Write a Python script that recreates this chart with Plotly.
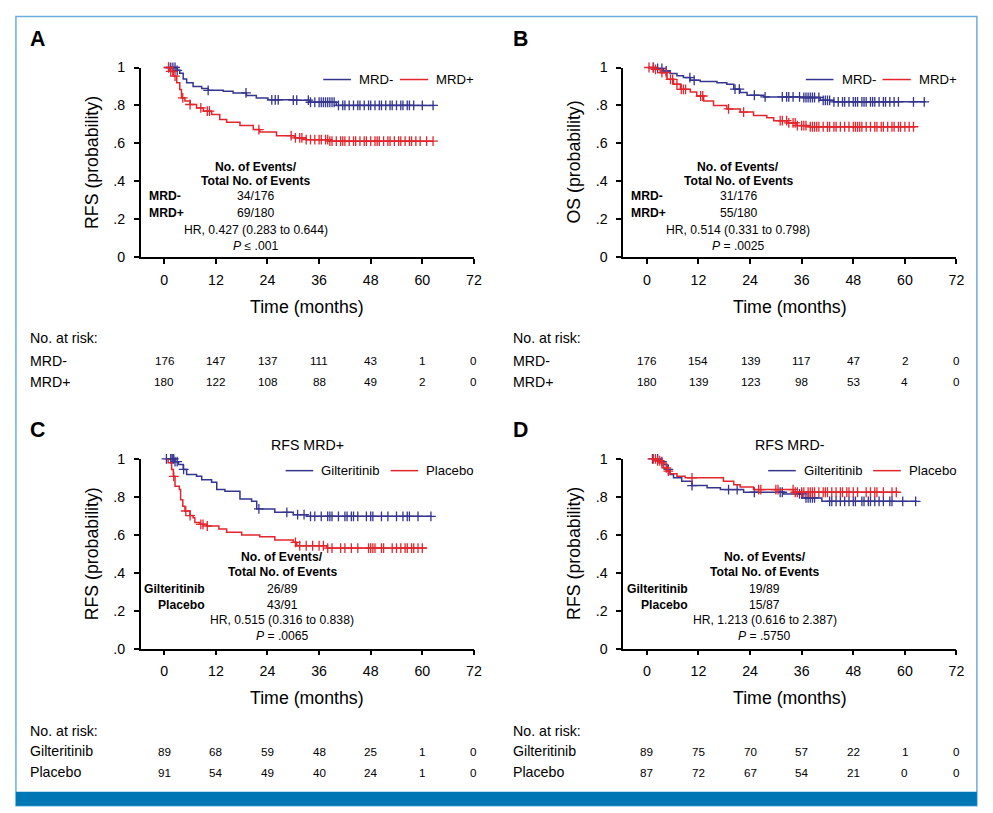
import numpy as np
import plotly.graph_objects as go

# ---- data ----
months = [0, 12, 24, 36, 48, 60, 72]

# A: RFS by MRD status
a_neg_t = [0.5, 3.0, 3.6, 4.4, 5.2, 6.7, 8.7, 10.2, 13.7, 16.0, 19.1, 21.4, 24.1, 30.0, 33.8, 40.0, 62.8]
a_neg_s = [1.0, 0.985, 0.97, 0.94, 0.92, 0.90, 0.89, 0.88, 0.875, 0.866, 0.852, 0.84, 0.83, 0.828, 0.817, 0.80, 0.80]
a_neg_cens = [1.0, 1.5, 2.0, 2.5, 3.0, 10.2, 19.0, 25.0, 25.8, 26.5, 30.0, 30.8, 33.5, 34.0, 35.0, 36.0, 36.5,
              37.0, 37.5, 38.0, 38.5, 39.0, 39.5, 40.5, 41.5, 42.0, 43.0, 44.0, 45.0, 45.5, 46.5, 47.5, 48.0,
              49.0, 50.0, 50.5, 51.5, 52.5, 53.0, 54.0, 55.0, 55.5, 56.5, 57.0, 58.0, 60.0, 62.5]
a_pos_t = [0.3, 1.3, 2.1, 2.9, 3.6, 4.0, 4.8, 6.0, 7.5, 9.1, 11.0, 12.9, 14.5, 17.6, 20.7, 22.2, 26.1, 30.3, 33.0, 38.5, 62.5]
a_pos_s = [1.0, 0.98, 0.955, 0.92, 0.884, 0.84, 0.823, 0.805, 0.787, 0.77, 0.752, 0.726, 0.712, 0.694, 0.673, 0.66,
           0.641, 0.629, 0.62, 0.612, 0.612]
a_pos_cens = [1.0, 1.5, 2.0, 2.5, 4.3, 6.0, 8.5, 10.0, 10.5, 22.0, 29.5, 30.5, 31.5, 32.0, 33.0, 34.0, 35.0, 36.0,
              36.5, 37.5, 38.0, 38.5, 39.0, 40.0, 41.0, 41.5, 42.0, 43.0, 44.0, 44.5, 45.5, 46.5, 47.0, 48.0,
              49.0, 49.5, 50.0, 51.0, 52.0, 52.5, 53.5, 54.5, 55.0, 56.0, 57.0, 57.5, 58.5, 59.5, 61.0, 62.5]

# B: OS by MRD status
b_neg_t = [0.4, 2.3, 3.9, 5.4, 7.0, 8.5, 10.1, 12.4, 16.3, 18.6, 20.2, 21.7, 23.3, 27.2, 35.7, 40.3, 43.4, 64.8]
b_neg_s = [1.0, 0.995, 0.982, 0.968, 0.956, 0.947, 0.933, 0.926, 0.92, 0.912, 0.886, 0.868, 0.854, 0.845, 0.842,
           0.827, 0.819, 0.819]
b_neg_cens = [1.5, 2.5, 3.5, 4.5, 10.0, 11.0, 20.5, 21.5, 25.0, 27.5, 31.5, 32.5, 33.0, 34.0, 35.5, 36.5, 37.0,
              37.5, 38.0, 38.5, 39.0, 40.0, 41.0, 41.5, 42.0, 42.5, 43.5, 44.5, 45.5, 46.0, 47.0, 48.0, 48.5,
              49.0, 50.0, 50.5, 51.0, 52.0, 52.5, 53.0, 54.0, 55.0, 55.5, 56.5, 57.5, 58.5, 62.0, 64.5]
b_pos_t = [0.2, 1.6, 3.1, 4.7, 6.2, 7.8, 10.1, 11.6, 13.2, 15.5, 18.6, 21.7, 24.8, 27.9, 29.5, 32.6, 34.9, 38.0, 62.5]
b_pos_s = [1.0, 0.99, 0.973, 0.938, 0.912, 0.885, 0.871, 0.85, 0.824, 0.80, 0.782, 0.765, 0.747, 0.735, 0.72,
           0.708, 0.694, 0.688, 0.688]
b_pos_cens = [0.5, 1.5, 2.0, 3.5, 4.5, 5.5, 6.0, 7.0, 8.0, 8.5, 9.0, 12.5, 13.0, 19.0, 22.5, 31.0, 31.5, 32.5,
              33.0, 34.0, 34.5, 35.0, 36.0, 36.5, 37.0, 38.0, 38.5, 39.0, 39.5, 40.0, 41.0, 42.0, 42.5, 43.5,
              44.0, 45.0, 46.0, 47.0, 48.0, 48.5, 49.0, 49.5, 50.0, 51.0, 52.0, 53.0, 53.5, 54.5, 55.0, 56.0,
              57.0, 57.5, 58.5, 59.0, 60.0, 61.0, 62.0]

# C: RFS MRD+ by arm
c_gil_t = [0.3, 2.5, 3.3, 4.4, 5.2, 7.5, 8.7, 11.0, 12.2, 14.1, 17.6, 20.3, 21.5, 25.7, 30.0, 33.1, 62.2]
c_gil_s = [1.0, 0.985, 0.97, 0.944, 0.917, 0.908, 0.89, 0.877, 0.838, 0.829, 0.789, 0.776, 0.736, 0.718, 0.706,
           0.697, 0.697]
c_gil_cens = [0.5, 1.5, 1.8, 2.0, 2.2, 2.5, 3.0, 4.5, 22.0, 28.5, 31.0, 32.5, 34.0, 35.0, 36.5, 38.0, 38.5, 39.0,
              40.5, 42.0, 42.5, 43.5, 44.0, 45.0, 47.0, 48.0, 48.5, 50.5, 52.0, 54.0, 55.5, 56.5, 57.0, 59.0, 62.0]
c_pla_t = [0.5, 0.9, 1.7, 2.1, 2.5, 3.5, 3.8, 4.3, 4.8, 6.0, 6.7, 7.1, 8.3, 9.8, 12.7, 14.5, 18.0, 22.2, 25.7,
           30.0, 30.8, 37.8, 61.0]
c_pla_s = [1.0, 0.98, 0.944, 0.908, 0.856, 0.838, 0.785, 0.75, 0.725, 0.701, 0.69, 0.665, 0.655, 0.646, 0.63,
           0.613, 0.599, 0.59, 0.572, 0.56, 0.542, 0.53, 0.53]
c_pla_cens = [2.2, 5.0, 6.0, 8.5, 9.0, 10.0, 30.5, 31.5, 33.0, 34.5, 36.0, 37.0, 38.0, 39.0, 41.0, 42.0, 43.5,
              45.0, 47.5, 48.0, 48.5, 49.0, 50.5, 51.0, 53.0, 54.0, 55.0, 56.0, 56.5, 57.5, 58.0, 59.0, 60.0]

# D: RFS MRD- by arm
d_gil_t = [1.2, 3.1, 3.9, 4.7, 5.4, 6.2, 8.1, 10.5, 14.0, 17.1, 22.5, 31.8, 36.1, 40.7, 62.8]
d_gil_s = [1.0, 0.985, 0.97, 0.944, 0.917, 0.90, 0.882, 0.859, 0.847, 0.838, 0.824, 0.815, 0.794, 0.776, 0.776]
d_gil_cens = [1.3, 2.5, 3.5, 5.0, 10.5, 19.0, 21.0, 25.0, 31.0, 31.5, 35.5, 36.0, 37.0, 37.5, 38.0, 38.5, 39.0,
              42.5, 43.0, 44.0, 45.0, 46.0, 47.0, 48.0, 48.5, 50.0, 50.5, 51.5, 52.0, 53.0, 54.0, 55.0, 56.5,
              57.0, 59.5, 62.5]
d_pla_t = [1.2, 2.3, 3.1, 3.9, 4.7, 5.4, 7.0, 8.9, 17.8, 20.2, 21.7, 24.8, 34.1, 58.6]
d_pla_s = [1.0, 0.99, 0.979, 0.952, 0.935, 0.921, 0.908, 0.90, 0.882, 0.864, 0.852, 0.838, 0.824, 0.824]
d_pla_cens = [1.5, 2.0, 2.5, 3.0, 3.5, 4.5, 5.0, 10.5, 26.0, 26.5, 30.0, 30.5, 34.0, 34.5, 35.0, 36.0, 36.5,
              37.5, 38.0, 38.5, 39.0, 40.0, 41.0, 41.5, 42.0, 43.0, 44.0, 45.0, 45.5, 46.5, 47.0, 48.0, 49.0,
              51.0, 52.0, 53.0, 53.5, 55.0, 57.0, 58.0]

# numbers at risk
a_risk = {"MRD-": [176, 147, 137, 111, 43, 1, 0], "MRD+": [180, 122, 108, 88, 49, 2, 0]}
b_risk = {"MRD-": [176, 154, 139, 117, 47, 2, 0], "MRD+": [180, 139, 123, 98, 53, 4, 0]}
c_risk = {"Gilteritinib": [89, 68, 59, 48, 25, 1, 0], "Placebo": [91, 54, 49, 40, 24, 1, 0]}
d_risk = {"Gilteritinib": [89, 75, 70, 57, 22, 1, 0], "Placebo": [87, 72, 67, 54, 21, 0, 0]}

a_events = ["34/176", "69/180"]
b_events = ["31/176", "55/180"]
c_events = ["26/89", "43/91"]
d_events = ["19/89", "15/87"]
hr_text = ["HR, 0.427 (0.283 to 0.644)", "HR, 0.514 (0.331 to 0.798)",
           "HR, 0.515 (0.316 to 0.838)", "HR, 1.213 (0.616 to 2.387)"]
p_text = ["<i>P</i> ≤ .001", "<i>P</i> = .0025", "<i>P</i> = .0065", "<i>P</i> = .5750"]

# ---- styling ----
W, H = 993, 813
# the snapshot shows the page a bit shifted and squeezed; undo that here
SX, OX = 0.992, 8.06
SY, OY = 0.98, 16.5
FS = 1.014
BLUE = "#35358f"
RED = "#e3262d"
SANS = "Liberation Sans, Arial, sans-serif"


def px(x):
    return ((x - OX) / SX) / W


def py(y):
    return 1 - ((y - OY) / SY) / H


annotations = []
shapes = []


def txt(x, y, s, size=12, bold=False, anchor="center", family=SANS, **kw):
    annotations.append(dict(x=px(x), y=py(y), xref="paper", yref="paper",
                            text=f"<b>{s}</b>" if bold else s, showarrow=False,
                            xanchor=anchor, yanchor="middle",
                            font=dict(size=size * FS, family=family, color="black"), **kw))


def at_risk(t, s, c):
    t = np.array(t)
    s = np.array(s)
    idx = np.searchsorted(t, np.array(c), side="right") - 1
    return s[np.clip(idx, 0, len(s) - 1)]


panels = [
    dict(letter="A", ytitle="RFS (probability)", title=None, zero="0",
         curves=[(a_neg_t, a_neg_s, a_neg_cens, BLUE), (a_pos_t, a_pos_s, a_pos_cens, RED)],
         names=["MRD-", "MRD+"], risk=a_risk, events=a_events),
    dict(letter="B", ytitle="OS (probability)", title=None, zero="0",
         curves=[(b_neg_t, b_neg_s, b_neg_cens, BLUE), (b_pos_t, b_pos_s, b_pos_cens, RED)],
         names=["MRD-", "MRD+"], risk=b_risk, events=b_events),
    dict(letter="C", ytitle="RFS (probability)", title="RFS MRD+", zero=".0",
         curves=[(c_gil_t, c_gil_s, c_gil_cens, BLUE), (c_pla_t, c_pla_s, c_pla_cens, RED)],
         names=["Gilteritinib", "Placebo"], risk=c_risk, events=c_events),
    dict(letter="D", ytitle="RFS (probability)", title="RFS MRD-", zero="0",
         curves=[(d_gil_t, d_gil_s, d_gil_cens, BLUE), (d_pla_t, d_pla_s, d_pla_cens, RED)],
         names=["Gilteritinib", "Placebo"], risk=d_risk, events=d_events),
]

fig = go.Figure()
layout = {}

for i, p in enumerate(panels):
    dx = 0 if i % 2 == 0 else 482.6
    dy = 0 if i < 2 else 391.2
    xn = "x" if i == 0 else f"x{i + 1}"
    yn = "y" if i == 0 else f"y{i + 1}"
    left, right = 140.7 + dx, 474.0 + dx
    top, bottom = 68.0 + dy, 257.7 + dy

    axis_style = dict(showline=True, linecolor="black", linewidth=1.5, ticks="outside",
                      ticklen=5, tickwidth=1.5, tickcolor="black", showgrid=False, zeroline=False,
                      tickfont=dict(size=14 * FS, family=SANS, color="black"), fixedrange=True)
    layout["xaxis" if i == 0 else f"xaxis{i + 1}"] = dict(
        axis_style, domain=[px(left), px(right)], range=[-5.5, 72], tickvals=months,
        anchor=yn, ticklabelstandoff=4)
    layout["yaxis" if i == 0 else f"yaxis{i + 1}"] = dict(
        axis_style, domain=[py(bottom), py(top)], range=[0, 1],
        tickvals=[0, 0.2, 0.4, 0.6, 0.8, 1],
        ticktext=[p["zero"], ".2", ".4", ".6", ".8", "1"], anchor=xn, ticklabelstandoff=6)

    for t, s, c, col in p["curves"]:
        fig.add_trace(go.Scatter(x=t, y=s, mode="lines", line=dict(color=col, width=1.5, shape="hv"),
                                 xaxis=xn, yaxis=yn, cliponaxis=False, hoverinfo="skip"))
        fig.add_trace(go.Scatter(x=c, y=at_risk(t, s, c), mode="markers",
                                 marker=dict(symbol="cross-thin", size=7, line=dict(color=col, width=1.3)),
                                 xaxis=xn, yaxis=yn, cliponaxis=False, hoverinfo="skip"))

    # panel letter and titles
    txt(28.3 + dx, 39 + dy, p["letter"], size=21, bold=True, anchor="left")
    if p["title"]:
        txt(307.3 + dx, 445, p["title"], size=14)
    txt(92 + dx, 162.5 + dy, p["ytitle"], size=17.5, textangle=-90)
    txt(307.3 + dx, 307 + dy, "Time (months)", size=17.5)

    # legend
    if i < 2:
        seg = [(323.3, 351.0, 357.3), (400.0, 428.3, 434.3)]
        ly = 80
    else:
        seg = [(285.7, 313.3, 319.3), (390.7, 418.3, 424.3)]
        ly = 471
    for (x0, x1, xt), name, (_, _, _, col) in zip(seg, p["names"], p["curves"]):
        shapes.append(dict(type="line", xref="paper", yref="paper", x0=px(x0 + dx), x1=px(x1 + dx),
                           y0=py(ly), y1=py(ly), line=dict(color=col, width=1.5)))
        txt(xt + dx, ly, name, size=13, anchor="left")

    # stats block
    if i < 2:
        cx = 256.0 + dx
        ys = [167, 181, 196.7, 213.7, 230, 246]
        lab_x, lab_anchor = 146.7 + dx, "left"
    else:
        cx = 282.3 + dx
        ys = [557.7, 572, 589, 605, 620.7, 636.7]
        lab_x, lab_anchor = 207.3 + dx, "right"
    txt(cx, ys[0], "No. of Events/", size=12, bold=True)
    txt(cx, ys[1], "Total No. of Events", size=12, bold=True)
    for k, name in enumerate(p["names"]):
        txt(lab_x, ys[2 + k], name, size=12, bold=True, anchor=lab_anchor)
        txt(cx, ys[2 + k], p["events"][k], size=12)
    txt(cx, ys[4], hr_text[i], size=12)
    txt(cx, ys[5], p_text[i], size=12)

    # numbers at risk
    ry = [338.3, 361, 382.3] if i < 2 else [731.7, 751.7, 772.3]
    txt(28.3 + dx, ry[0], "No. at risk:", size=14, anchor="left")
    for k, (name, vals) in enumerate(p["risk"].items()):
        txt(28.3 + dx, ry[1 + k], name, size=14, anchor="left")
        for m, v in zip(months, vals):
            annotations.append(dict(x=m, y=py(ry[1 + k]), xref=xn, yref="paper", text=str(v),
                                    showarrow=False, xanchor="center", yanchor="middle",
                                    font=dict(size=11.5 * FS, family=SANS, color="black")))

# frame and bottom band
shapes.append(dict(type="rect", xref="paper", yref="paper", x0=px(16), x1=px(977), y0=py(806), y1=0.9995,
                   line=dict(color="#6aaede", width=1.5), fillcolor="rgba(0,0,0,0)", layer="below"))
shapes.append(dict(type="rect", xref="paper", yref="paper", x0=px(16), x1=px(977), y0=py(806), y1=py(792),
                   line=dict(width=0), fillcolor="#0077b5"))

fig.update_layout(width=W, height=H, margin=dict(l=0, r=0, t=0, b=0), showlegend=False,
                  plot_bgcolor="white", paper_bgcolor="white",
                  annotations=annotations, shapes=shapes, **layout)

fig.write_html("out.html")
